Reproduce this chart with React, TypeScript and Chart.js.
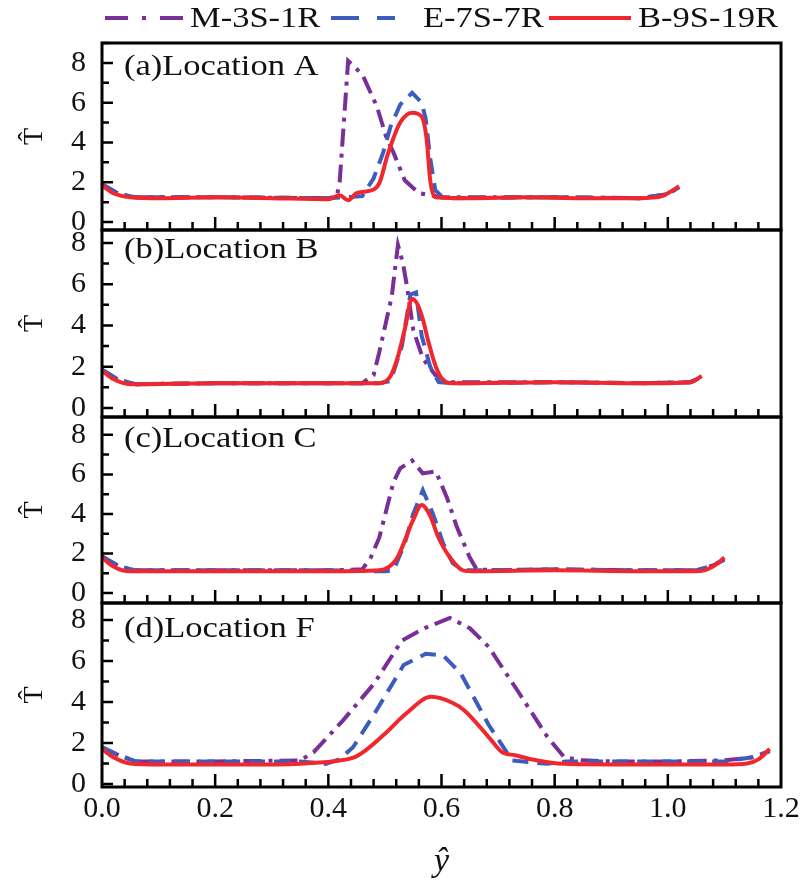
import React, { useEffect, useRef } from 'react';
import { Chart, registerables } from 'chart.js';

Chart.register(...registerables);

// ---------- Data ----------
const seriesNames = ['M-3S-1R', 'E-7S-7R', 'B-9S-19R'];
const panelLabels = ['(a)Location A', '(b)Location B', '(c)Location C', '(d)Location F'];
const xTickLabels = ['0.0', '0.2', '0.4', '0.6', '0.8', '1.0', '1.2'];
const yTickLabels = ['0', '2', '4', '6', '8'];

// Panel (a)
const aRedX = [0, 0.02, 0.05, 0.1, 0.2, 0.3, 0.4, 0.42, 0.435, 0.45, 0.47, 0.49, 0.505, 0.527, 0.548, 0.565, 0.574, 0.58, 0.589, 0.65, 0.75, 0.85, 0.95, 0.99, 1.0, 1.02];
const aRedY = [1.85, 1.45, 1.25, 1.2, 1.25, 1.2, 1.15, 1.35, 1.1, 1.45, 1.55, 1.95, 3.4, 5.0, 5.5, 5.3, 4.1, 2.1, 1.25, 1.2, 1.25, 1.2, 1.2, 1.3, 1.45, 1.8];
const aBlueX = [0, 0.03, 0.06, 0.2, 0.4, 0.46, 0.48, 0.497, 0.51, 0.527, 0.548, 0.565, 0.572, 0.58, 0.589, 0.6, 0.62, 0.8, 0.95, 1.0, 1.02];
const aBlueY = [1.9, 1.4, 1.25, 1.25, 1.2, 1.3, 2.2, 3.5, 4.8, 5.9, 6.5, 6.0, 5.2, 3.2, 1.6, 1.3, 1.2, 1.25, 1.2, 1.4, 1.75];
const aPurpleX = [0, 0.03, 0.06, 0.2, 0.4, 0.415, 0.42, 0.435, 0.45, 0.462, 0.486, 0.503, 0.515, 0.535, 0.56, 0.6, 0.8, 0.95, 1.0, 1.02];
const aPurpleY = [1.9, 1.4, 1.25, 1.25, 1.2, 1.3, 2.0, 8.1, 7.7, 7.3, 5.8, 4.2, 3.5, 2.1, 1.45, 1.25, 1.25, 1.2, 1.4, 1.75];

// Panel (b)
const bRedX = [0, 0.02, 0.05, 0.2, 0.4, 0.49, 0.51, 0.522, 0.535, 0.548, 0.558, 0.567, 0.577, 0.59, 0.603, 0.62, 0.8, 0.95, 1.04, 1.06];
const bRedY = [1.8, 1.4, 1.15, 1.2, 1.2, 1.2, 1.55, 2.4, 3.8, 5.3, 5.0, 4.3, 3.2, 2.0, 1.35, 1.2, 1.25, 1.2, 1.25, 1.55];
const bBlueX = [0, 0.03, 0.06, 0.2, 0.4, 0.49, 0.51, 0.53, 0.545, 0.555, 0.565, 0.58, 0.595, 0.62, 0.8, 0.95, 1.04, 1.06];
const bBlueY = [1.85, 1.35, 1.15, 1.2, 1.2, 1.2, 1.3, 3.0, 5.5, 5.6, 3.5, 2.0, 1.25, 1.2, 1.25, 1.2, 1.25, 1.5];
const bPurpleX = [0, 0.03, 0.06, 0.2, 0.4, 0.46, 0.48, 0.49, 0.512, 0.523, 0.532, 0.539, 0.55, 0.567, 0.589, 0.61, 0.8, 0.95, 1.04, 1.06];
const bPurpleY = [1.85, 1.35, 1.15, 1.2, 1.2, 1.2, 1.6, 2.7, 5.4, 7.9, 7.0, 5.9, 3.8, 2.4, 1.6, 1.25, 1.25, 1.2, 1.25, 1.5];

// Panel (c)
const cRedX = [0, 0.02, 0.05, 0.2, 0.4, 0.49, 0.52, 0.55, 0.565, 0.58, 0.594, 0.615, 0.638, 0.66, 0.8, 0.95, 1.05, 1.08, 1.1];
const cRedY = [1.8, 1.35, 1.1, 1.1, 1.1, 1.15, 1.7, 3.7, 4.45, 3.9, 2.85, 1.8, 1.15, 1.1, 1.15, 1.1, 1.1, 1.35, 1.8];
const cBlueX = [0, 0.03, 0.06, 0.2, 0.4, 0.5, 0.515, 0.535, 0.55, 0.567, 0.585, 0.603, 0.62, 0.64, 0.8, 0.95, 1.05, 1.08, 1.1];
const cBlueY = [1.85, 1.35, 1.15, 1.15, 1.15, 1.1, 1.15, 2.5, 4.0, 5.2, 4.0, 2.5, 1.5, 1.15, 1.2, 1.15, 1.15, 1.4, 1.7];
const cPurpleX = [0, 0.03, 0.06, 0.2, 0.4, 0.46, 0.475, 0.49, 0.515, 0.527, 0.548, 0.567, 0.59, 0.61, 0.627, 0.65, 0.662, 0.7, 0.8, 0.95, 1.05, 1.08, 1.1];
const cPurpleY = [1.85, 1.35, 1.15, 1.15, 1.15, 1.2, 1.8, 2.8, 5.6, 6.3, 6.7, 6.05, 6.15, 4.8, 3.35, 1.8, 1.2, 1.15, 1.2, 1.15, 1.15, 1.4, 1.7];

// Panel (d)
const dRedX = [0, 0.02, 0.05, 0.1, 0.2, 0.3, 0.358, 0.42, 0.45, 0.5, 0.536, 0.582, 0.62, 0.64, 0.683, 0.707, 0.73, 0.756, 0.817, 0.9, 1.0, 1.1, 1.14, 1.16, 1.18];
const dRedY = [1.7, 1.3, 1.0, 0.95, 0.95, 0.95, 1.0, 1.14, 1.35, 2.45, 3.4, 4.25, 3.95, 3.6, 2.3, 1.55, 1.4, 1.22, 0.98, 0.95, 0.95, 0.95, 1.0, 1.2, 1.7];
const dBlueX = [0, 0.03, 0.06, 0.2, 0.35, 0.395, 0.42, 0.444, 0.481, 0.533, 0.572, 0.603, 0.634, 0.683, 0.725, 0.787, 0.82, 0.9, 1.0, 1.1, 1.15, 1.18];
const dBlueY = [1.8, 1.4, 1.1, 1.1, 1.1, 0.98, 1.2, 1.8, 3.4, 5.8, 6.35, 6.27, 5.4, 2.9, 1.14, 0.98, 1.1, 1.1, 1.1, 1.1, 1.3, 1.6];
const dPurpleX = [0, 0.03, 0.06, 0.2, 0.35, 0.374, 0.426, 0.481, 0.53, 0.57, 0.615, 0.65, 0.683, 0.738, 0.787, 0.817, 0.85, 0.9, 1.0, 1.1, 1.15, 1.18];
const dPurpleY = [1.75, 1.4, 1.1, 1.1, 1.14, 1.55, 3.1, 4.9, 7.0, 7.6, 8.1, 7.6, 6.7, 4.4, 2.3, 1.3, 1.15, 1.1, 1.1, 1.15, 1.3, 1.6];

// y ranges per panel (a..d)
const yMins = [-0.4, -0.44, -0.5, -0.15];
const yMaxs = [9.0, 8.63, 8.9, 8.83];
const panelWeights = [187, 187, 186, 184];

// ---------- Styles ----------
const PURPLE = '#7A2E98';
const BLUE = '#3D5DBE';
const RED = '#F0282D';
const FONT = '"Liberation Serif", "Times New Roman", serif';
const PANEL_IDS = ['yA', 'yB', 'yC', 'yD'];
const LABEL_OFFSETS = [32, 28, 30, 34];
const TEXT_STRETCH = 1.15;

const pts = (xs: number[], ys: number[]) => xs.map((x, i) => ({ x, y: ys[i] }));

const panelData = [
  [aPurpleX, aPurpleY, aBlueX, aBlueY, aRedX, aRedY],
  [bPurpleX, bPurpleY, bBlueX, bBlueY, bRedX, bRedY],
  [cPurpleX, cPurpleY, cBlueX, cBlueY, cRedX, cRedY],
  [dPurpleX, dPurpleY, dBlueX, dBlueY, dRedX, dRedY],
];

function buildDatasets() {
  const ds: any[] = [];
  panelData.forEach((p, i) => {
    const axis = PANEL_IDS[i];
    ds.push({
      label: seriesNames[2], data: pts(p[4], p[5]), yAxisID: axis, xAxisID: 'x',
      borderColor: RED, borderWidth: 4, pointRadius: 0, cubicInterpolationMode: 'monotone', order: 0, fill: false,
    });
    ds.push({
      label: seriesNames[1], data: pts(p[2], p[3]), yAxisID: axis, xAxisID: 'x',
      borderColor: BLUE, borderWidth: 4, pointRadius: 0, tension: 0, borderDash: [16, 9], order: 1, fill: false,
    });
    ds.push({
      label: seriesNames[0], data: pts(p[0], p[1]), yAxisID: axis, xAxisID: 'x',
      borderColor: PURPLE, borderWidth: 4, pointRadius: 0, tension: 0, borderDash: [18, 7, 4, 7], order: 2, fill: false,
    });
  });
  return ds;
}

function yScale(i: number) {
  return {
    type: 'linear',
    position: 'left',
    stack: 'panels',
    stackWeight: panelWeights[i],
    min: yMins[i],
    max: yMaxs[i],
    grid: { display: false, drawTicks: false },
    border: { display: false },
    ticks: {
      stepSize: 2,
      includeBounds: false,
      autoSkip: false,
      padding: 16,
      color: '#111',
      font: { family: FONT, size: 30 },
      callback: (v: number) => {
        const s = String(Math.round(v));
        return yTickLabels.includes(s) && Math.abs(v - Math.round(v)) < 1e-6 ? s : '';
      },
    },
    title: {
      display: true,
      text: 'T\u0302',
      color: '#111',
      font: { family: FONT, size: 28 },
      padding: { top: 18, bottom: 0 },
    },
    afterFit: (s: any) => { s.width = 102; },
  };
}

function stretchedText(ctx: any, text: string, x: number, y: number) {
  ctx.save();
  ctx.translate(x, y);
  ctx.scale(TEXT_STRETCH, 1);
  ctx.fillText(text, 0, 0);
  ctx.restore();
}

const framePlugin = {
  id: 'framePlugin',
  afterDraw(chart: any) {
    const ctx = chart.ctx;
    const { left, right } = chart.chartArea;
    const xs = chart.scales.x;
    ctx.save();
    ctx.strokeStyle = '#000';
    ctx.lineCap = 'butt';
    PANEL_IDS.forEach((id, i) => {
      const s = chart.scales[id];
      ctx.lineWidth = 2.5;
      ctx.beginPath();
      for (let k = 1; k < 30; k++) {
        const px = xs.getPixelForValue(k * 0.04);
        const len = k % 5 === 0 ? 13 : 8;
        ctx.moveTo(px, s.bottom);
        ctx.lineTo(px, s.bottom - len);
      }
      for (let v = Math.ceil(s.min); v <= Math.floor(s.max); v++) {
        const py = s.getPixelForValue(v);
        const len = v % 2 === 0 ? 11 : 7;
        ctx.moveTo(left, py);
        ctx.lineTo(left + len, py);
      }
      ctx.stroke();
      ctx.lineWidth = 3;
      ctx.strokeRect(left, s.top, right - left, s.bottom - s.top);
      ctx.fillStyle = '#111';
      ctx.font = `30px ${FONT}`;
      ctx.textBaseline = 'alphabetic';
      ctx.textAlign = 'left';
      stretchedText(ctx, panelLabels[i], left + 22, s.top + LABEL_OFFSETS[i]);
    });

    // legend
    const ly = 18;
    const items = [
      { color: PURPLE, dash: [23, 14, 4, 14], x0: 105, x1: 185, tx: 190, name: seriesNames[0] },
      { color: BLUE, dash: [28, 18], x0: 331, x1: 395, tx: 423, name: seriesNames[1] },
      { color: RED, dash: [], x0: 549, x1: 631, tx: 638, name: seriesNames[2] },
    ];
    items.forEach((it) => {
      ctx.strokeStyle = it.color;
      ctx.lineWidth = 4;
      ctx.setLineDash(it.dash);
      ctx.beginPath();
      ctx.moveTo(it.x0, ly);
      ctx.lineTo(it.x1, ly);
      ctx.stroke();
      ctx.setLineDash([]);
      ctx.fillStyle = '#111';
      ctx.font = `30px ${FONT}`;
      ctx.textBaseline = 'middle';
      ctx.textAlign = 'left';
      stretchedText(ctx, it.name, it.tx, ly + 1);
    });
    ctx.restore();
  },
};

export default function App() {
  const ref = useRef<HTMLCanvasElement | null>(null);
  useEffect(() => {
    if (!ref.current) return;
    const chart = new Chart(ref.current, {
      type: 'line',
      data: { datasets: buildDatasets() },
      options: {
        animation: false,
        responsive: false,
        devicePixelRatio: 1,
        layout: { padding: { top: 43, right: 23, bottom: 0, left: 0 } },
        plugins: { legend: { display: false }, tooltip: { enabled: false } },
        scales: {
          x: {
            type: 'linear',
            position: 'bottom',
            min: 0,
            max: 1.2,
            grid: { display: false, drawTicks: false },
            border: { display: false },
            ticks: {
              stepSize: 0.2,
              autoSkip: false,
              maxRotation: 0,
              padding: 4,
              color: '#111',
              font: { family: FONT, size: 30 },
              callback: (v: number) => {
                const idx = Math.round(v / 0.2);
                return Math.abs(v - idx * 0.2) < 1e-6 ? xTickLabels[idx] : '';
              },
            },
            title: {
              display: true,
              text: 'ŷ',
              color: '#111',
              font: { family: FONT, size: 34, style: 'italic' },
              padding: { top: 0, bottom: 14 },
            },
            afterFit: (s: any) => { s.height = 109; },
          },
          yD: yScale(3),
          yC: yScale(2),
          yB: yScale(1),
          yA: yScale(0),
        } as any,
      },
      plugins: [framePlugin],
    } as any);
    return () => chart.destroy();
  }, []);
  return (
    <canvas
      ref={ref}
      width={804}
      height={896}
      style={{ position: 'absolute', left: 0, top: 0, background: '#fff' }}
    />
  );
}
